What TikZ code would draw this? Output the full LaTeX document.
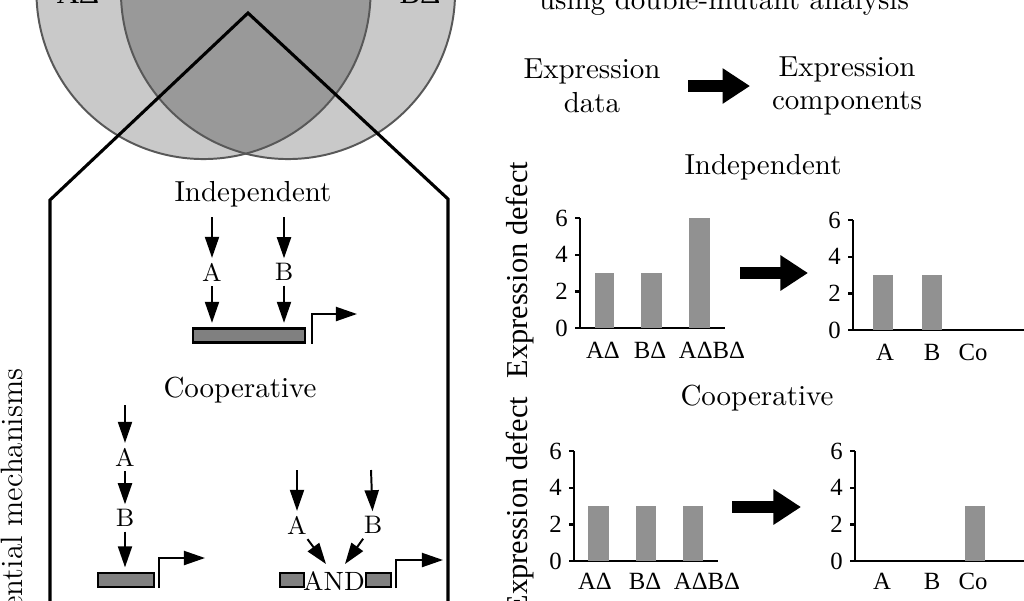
\documentclass[tikz,border=0pt]{standalone}
\usepackage{fontspec}
\newfontfamily\chartfont{Liberation Serif}
\usetikzlibrary{arrows.meta,positioning}
\definecolor{vennlight}{RGB}{201,201,201}
\definecolor{venndark}{RGB}{153,153,153}
\definecolor{vennedge}{RGB}{88,88,88}
\definecolor{bargray}{RGB}{145,145,145}
\definecolor{genegray}{RGB}{128,128,128}

\begin{document}
\begin{tikzpicture}[
    x=0.0125cm, y=-0.0125cm,
    every node/.style={font=\fontsize{10.3}{12}\selectfont},
    arr/.style={-{Triangle[length=7.5pt,width=5pt]}, line width=0.7pt},
    bigarr/.style={-{Triangle[length=9.8pt,width=12pt]}, line width=4.2pt},
    gene/.style={draw, fill=genegray, line width=0.8pt, minimum height=5pt, inner sep=0pt},
    lbl/.style={font=\fontsize{9}{10.8}\selectfont, inner sep=1.6pt},
    venn/.style={draw=vennedge, line width=0.7pt},
    frame/.style={line width=1.1pt},
    axis/.style={line width=0.8pt},
    bar/.style={fill=bargray},
    tick/.style={font=\chartfont\fontsize{8.8}{10}\selectfont, inner sep=1pt},
    ylbl/.style={font=\chartfont\fontsize{10.8}{12}\selectfont, rotate=90}
]
    \useasboundingbox (0,0) rectangle (1024,600);
    \clip (0,0) rectangle (1024,600);

    % Venn diagram
    \begin{scope}
        \fill[vennlight] (203.5,-8) circle[radius=2.0875cm];
        \fill[vennlight] (288,-8) circle[radius=2.0875cm];
        \clip (203.5,-8) circle[radius=2.0875cm];
        \fill[venndark] (288,-8) circle[radius=2.0875cm];
    \end{scope}
    \draw[venn] (203.5,-8) circle[radius=2.0875cm];
    \draw[venn] (288,-8) circle[radius=2.0875cm];
    \node[anchor=base, font=\chartfont\fontsize{11}{13}\selectfont] (vennA) at (78,3) {AΔ};
    \node[anchor=base, font=\chartfont\fontsize{11}{13}\selectfont] (vennB) at (420,3) {BΔ};

    % Mechanisms frame
    \draw[frame] (50,610) -- (50,200) -- (248,13) -- (448,199) -- (448,610);
    \node[rotate=90, anchor=base east, inner sep=0pt, font=\fontsize{11}{13}\selectfont]
        (mechlbl) at (23,368) {Potential mechanisms};

    % Independent mechanism
    \node (indmech) at (253,194) {Independent};
    \coordinate (iAin) at (212,217);
    \coordinate (iBin) at (284,217);
    \node[lbl] (iA) at (212,272) {A};
    \node[lbl] (iB) at (284,272) {B};
    \node[gene, minimum width=39.8pt] (igene) at (249,335.5) {};
    \coordinate (iprom) at (357,314);
    \draw[arr] (iAin) -- (iA);
    \draw[arr] (iBin) -- (iB);
    \draw[arr, shorten >=1.6pt] (iA) -- (iA |- igene.north);
    \draw[arr, shorten >=1.6pt] (iB) -- (iB |- igene.north);
    \draw[arr] ([xshift=2pt]igene.south east) |- (iprom);

    % Cooperative mechanism, chain
    \node (coopmech) at (240,390) {Cooperative};
    \coordinate (cAin) at (125,405);
    \node[lbl] (cA) at (125,457) {A};
    \node[lbl] (cB) at (125,518) {B};
    \node[gene, minimum width=19.9pt] (cgene) at (126,580) {};
    \coordinate (cprom) at (205,558);
    \draw[arr] (cAin) -- (cA);
    \draw[arr] (cA) -- (cB);
    \draw[arr, shorten >=1.6pt] (cB) -- (cB |- cgene.north);
    \draw[arr] ([xshift=1.4pt]cgene.south east) |- (cprom);

    % Cooperative mechanism, AND gate
    \coordinate (aAin) at (297,470);
    \coordinate (aBin) at (371,470);
    \node[lbl] (aA) at (297,525) {A};
    \node[lbl] (aB) at (373,525) {B};
    \node[inner sep=0pt, font=\fontsize{9.4}{11}\selectfont] (andgate) at (334,581) {AND};
    \node[gene, minimum width=8.5pt] (agene1) at (292,580) {};
    \node[gene, minimum width=8.9pt] (agene2) at (378.5,580) {};
    \coordinate (andL) at (326,564);
    \coordinate (andR) at (345,564);
    \coordinate (aprom) at (443,560);
    \draw[arr] (aAin) -- (aA);
    \draw[arr] (aBin) -- (aB);
    \draw[arr] (aA) -- (andL);
    \draw[arr] (aB) -- (andR);
    \draw[arr] ([xshift=1.5pt]agene2.south east) |- (aprom);

    % Analysis header
    \node[anchor=base] (method) at (724,9) {using double-mutant analysis};
    \node[align=center] (expdata) at (592,86) {Expression\\data};
    \node[align=center] (expcomp) at (847,86) {Expression\\components};
    \draw[bigarr, shorten <=6.4pt, shorten >=4.3pt] (expdata) -- (expcomp);

    % Independent: data
    \node (indchart) at (763,167) {Independent};
    \node[ylbl] (indylbl) at (520,270) {Expression defect};
    \begin{scope}[shift={(580,328)}]
        \draw[axis] (-5,0) -- (145,0);
        \draw[axis] (0,0) -- (0,-110);
        \foreach \v in {2,4,6}
            \draw[axis] (-5,-18.3*\v) -- (0,-18.3*\v);
        \foreach \v in {0,2,4,6}
            \node[tick, anchor=east] (ida\v) at (-9,-18.3*\v) {\v};
        \fill[bar] (15,0) rectangle (34,-55);
        \fill[bar] (61,0) rectangle (82,-55);
        \fill[bar] (109,0) rectangle (130,-110);
        \node[tick] (idaA) at (23,22) {AΔ};
        \node[tick] (idaB) at (70,22) {BΔ};
        \node[tick] (idaAB) at (132,22) {AΔBΔ};
    \end{scope}
    \coordinate (iarr1) at (740,273);
    \coordinate (iarr2) at (808,273);
    \draw[bigarr] (iarr1) -- (iarr2);
    % Independent: components
    \begin{scope}[shift={(853,330)}]
        \draw[axis] (-5,0) -- (175,0);
        \draw[axis] (0,0) -- (0,-110);
        \foreach \v in {2,4,6}
            \draw[axis] (-5,-18.3*\v) -- (0,-18.3*\v);
        \foreach \v in {0,2,4,6}
            \node[tick, anchor=east] (idc\v) at (-9,-18.3*\v) {\v};
        \fill[bar] (20,0) rectangle (40,-55);
        \fill[bar] (69,0) rectangle (89,-55);
        \node[tick] (idcA) at (32,22) {A};
        \node[tick] (idcB) at (79,22) {B};
        \node[tick] (idcCo) at (120,22) {Co};
    \end{scope}

    % Cooperative: data
    \node (coopchart) at (757,398) {Cooperative};
    \node[ylbl] (coopylbl) at (520,505) {Expression defect};
    \begin{scope}[shift={(574,561)}]
        \draw[axis] (-5,0) -- (144,0);
        \draw[axis] (0,0) -- (0,-110);
        \foreach \v in {2,4,6}
            \draw[axis] (-5,-18.3*\v) -- (0,-18.3*\v);
        \foreach \v in {0,2,4,6}
            \node[tick, anchor=east] (cda\v) at (-9,-18.3*\v) {\v};
        \fill[bar] (14,0) rectangle (35,-55);
        \fill[bar] (62,0) rectangle (82,-55);
        \fill[bar] (109,0) rectangle (129,-55);
        \node[tick] (cdaA) at (21,20) {AΔ};
        \node[tick] (cdaB) at (71,20) {BΔ};
        \node[tick] (cdaAB) at (133,20) {AΔBΔ};
    \end{scope}
    \coordinate (carr1) at (732,507);
    \coordinate (carr2) at (801,507);
    \draw[bigarr] (carr1) -- (carr2);
    % Cooperative: components
    \begin{scope}[shift={(855,561)}]
        \draw[axis] (-5,0) -- (175,0);
        \draw[axis] (0,0) -- (0,-110);
        \foreach \v in {2,4,6}
            \draw[axis] (-5,-18.3*\v) -- (0,-18.3*\v);
        \foreach \v in {0,2,4,6}
            \node[tick, anchor=east] (cdc\v) at (-9,-18.3*\v) {\v};
        \fill[bar] (110,0) rectangle (130,-55);
        \node[tick] (cdcA) at (27,20) {A};
        \node[tick] (cdcB) at (77,20) {B};
        \node[tick] (cdcCo) at (118,20) {Co};
    \end{scope}
\end{tikzpicture}
\end{document}
